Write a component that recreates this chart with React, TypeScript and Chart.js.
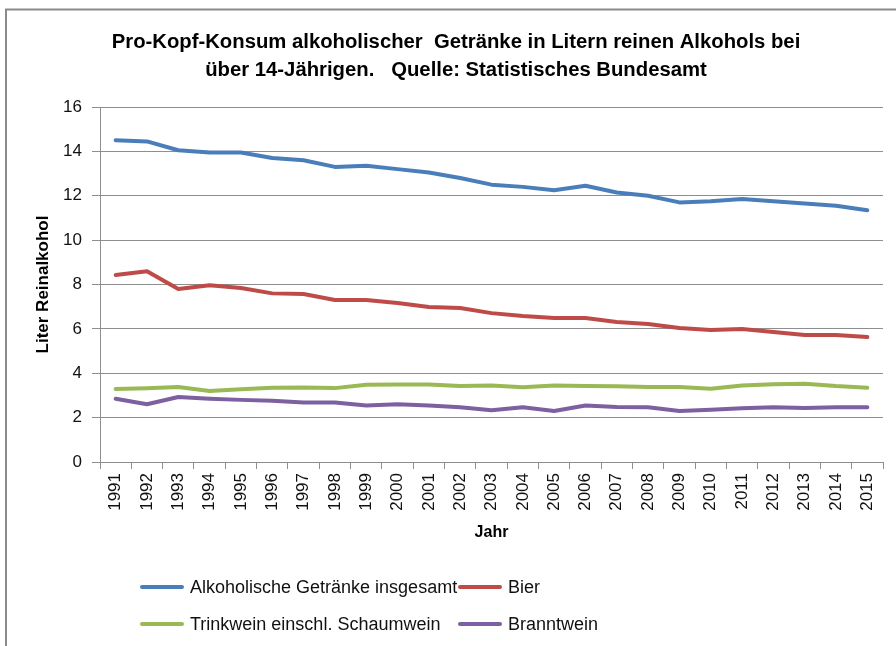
import React, { useEffect, useRef } from "react";
import { Chart, registerables } from "chart.js";

Chart.register(...registerables);

const years = [
  "1991", "1992", "1993", "1994", "1995", "1996", "1997", "1998", "1999", "2000",
  "2001", "2002", "2003", "2004", "2005", "2006", "2007", "2008", "2009", "2010",
  "2011", "2012", "2013", "2014", "2015",
];
const insgesamt = [
  14.5, 14.45, 14.05, 13.95, 13.95, 13.7, 13.6, 13.3, 13.35, 13.2,
  13.05, 12.8, 12.5, 12.4, 12.25, 12.45, 12.15, 12.0, 11.7, 11.75,
  11.85, 11.75, 11.65, 11.55, 11.35,
];
const bier = [
  8.43, 8.6, 7.8, 7.97, 7.84, 7.6, 7.57, 7.3, 7.3, 7.17,
  6.99, 6.94, 6.71, 6.58, 6.49, 6.49, 6.31, 6.22, 6.04, 5.95,
  5.99, 5.86, 5.72, 5.72, 5.63,
];
const trinkwein = [
  3.29, 3.32, 3.38, 3.2, 3.28, 3.35, 3.36, 3.33, 3.48, 3.49,
  3.49, 3.42, 3.45, 3.37, 3.45, 3.42, 3.41, 3.38, 3.38, 3.3,
  3.45, 3.5, 3.53, 3.42, 3.35,
];
const branntwein = [
  2.85, 2.6, 2.93, 2.85, 2.8, 2.76, 2.68, 2.68, 2.55, 2.6,
  2.55, 2.47, 2.33, 2.47, 2.3, 2.55, 2.48, 2.47, 2.3, 2.35,
  2.42, 2.47, 2.43, 2.47, 2.47,
];
const seriesNames = [
  "Alkoholische Getränke insgesamt",
  "Bier",
  "Trinkwein einschl. Schaumwein",
  "Branntwein",
];
const seriesColors = ["#4A7EBB", "#BE4B48", "#98B954", "#7D60A0"];
const titleLines = [
  "Pro-Kopf-Konsum alkoholischer  Getränke in Litern reinen Alkohols bei",
  "über 14-Jährigen.   Quelle: Statistisches Bundesamt",
];
const xTitle = "Jahr";
const yTitle = "Liter Reinalkohol";
const yMin = 0;
const yMax = 16;
const yStep = 2;

const FONT = "'Liberation Sans', Arial, sans-serif";
const GRID = "#8e8e8e";

const framePlugin = {
  id: "frame",
  beforeDraw(chart: any) {
    const ctx = chart.ctx;
    ctx.save();
    ctx.fillStyle = "#ffffff";
    ctx.fillRect(0, 0, chart.width, chart.height);
    ctx.strokeStyle = "#8a8a8a";
    ctx.lineWidth = 2;
    ctx.beginPath();
    ctx.moveTo(6, chart.height);
    ctx.lineTo(6, 9.5);
    ctx.lineTo(chart.width, 9.5);
    ctx.stroke();
    ctx.restore();
  },
};

const titlePlugin = {
  id: "customTitle",
  afterDraw(chart: any) {
    const ctx = chart.ctx;
    ctx.save();
    ctx.fillStyle = "#000";
    ctx.font = `bold 20.3px ${FONT}`;
    ctx.textAlign = "center";
    ctx.textBaseline = "middle";
    titleLines.forEach((t, i) => ctx.fillText(t, 456, 42 + i * 28));
    ctx.restore();
  },
};

const legendPlugin = {
  id: "customLegend",
  afterDraw(chart: any) {
    const ctx = chart.ctx;
    const base = chart.chartArea.bottom;
    const cols = [142, 460];
    const rows = [base + 125, base + 162];
    ctx.save();
    ctx.font = `18px ${FONT}`;
    ctx.textBaseline = "middle";
    ctx.textAlign = "left";
    chart.data.datasets.forEach((ds: any, i: number) => {
      const x = cols[i % 2];
      const y = rows[Math.floor(i / 2)];
      ctx.strokeStyle = ds.borderColor;
      ctx.lineWidth = 4;
      ctx.lineCap = "round";
      ctx.beginPath();
      ctx.moveTo(x, y);
      ctx.lineTo(x + 40, y);
      ctx.stroke();
      ctx.fillStyle = "#111";
      ctx.fillText(ds.label, x + 48, y + 1);
    });
    ctx.restore();
  },
};

export default function App() {
  const ref = useRef<HTMLCanvasElement>(null);
  useEffect(() => {
    if (!ref.current) return;
    const allData = [insgesamt, bier, trinkwein, branntwein];
    const chart = new Chart(ref.current, {
      type: "line",
      data: {
        labels: years,
        datasets: allData.map((d, i) => ({
          label: seriesNames[i],
          data: d,
          borderColor: seriesColors[i],
          backgroundColor: seriesColors[i],
          borderWidth: 4,
          pointRadius: 0,
          tension: 0,
          borderJoinStyle: "round" as const,
          borderCapStyle: "round" as const,
          order: i,
        })),
      },
      options: {
        responsive: false,
        animation: false,
        devicePixelRatio: 1,
        layout: { padding: { top: 107, left: 33, right: 13, bottom: 104 } },
        plugins: {
          legend: { display: false },
          title: { display: false },
          tooltip: { enabled: false },
        },
        scales: {
          x: {
            type: "category",
            offset: true,
            afterFit: (s: any) => { s.height = 80; },
            grid: {
              offset: true,
              drawOnChartArea: false,
              drawTicks: true,
              tickLength: 7,
              color: GRID,
            },
            border: { color: GRID, width: 1 },
            ticks: {
              autoSkip: false,
              minRotation: 90,
              maxRotation: 90,
              padding: 4,
              color: "#111",
              font: { family: FONT, size: 17 },
            },
            title: {
              display: true,
              text: xTitle,
              color: "#000",
              padding: 0,
              font: { family: FONT, size: 16, weight: "bold" },
            },
          },
          y: {
            min: yMin,
            max: yMax,
            afterFit: (s: any) => { s.width = 67; },
            grid: { color: GRID, tickLength: 8, drawTicks: true },
            border: { color: GRID, width: 1 },
            ticks: {
              stepSize: yStep,
              padding: 10,
              color: "#111",
              font: { family: FONT, size: 17 },
            },
            title: {
              display: true,
              text: yTitle,
              color: "#000",
              padding: 0,
              font: { family: FONT, size: 17, weight: "bold" },
            },
          },
        },
      },
      plugins: [framePlugin, titlePlugin, legendPlugin],
    });
    return () => chart.destroy();
  }, []);
  return (
    <div style={{ position: "absolute", left: 0, top: 0, width: 896, height: 646 }}>
      <canvas ref={ref} width={896} height={646} />
    </div>
  );
}
